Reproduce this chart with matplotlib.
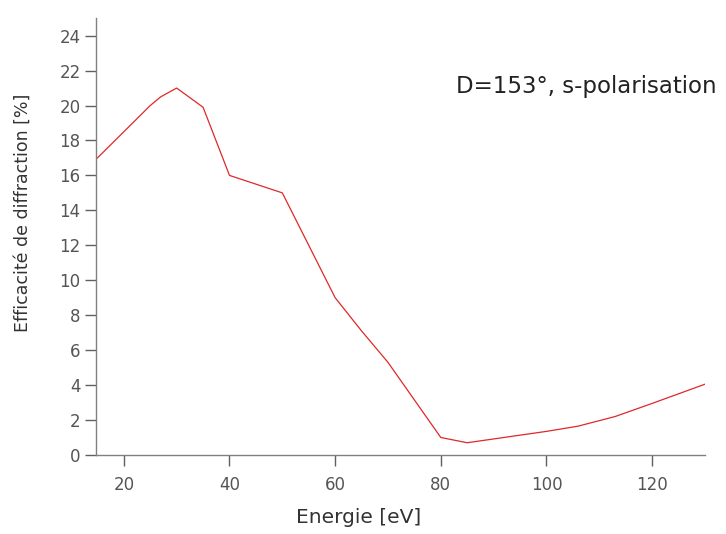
import matplotlib
matplotlib.use("Agg")
import matplotlib.pyplot as plt

# Valeurs
energie = [15, 20, 25, 27, 30, 35, 40, 50, 60, 65, 70, 80, 85, 100, 106, 113, 120, 130]
efficacite = [17.0, 18.5, 20.0, 20.5, 21.0, 19.9, 16.0, 15.0, 9.0, 7.1, 5.3, 1.0, 0.7,
              1.35, 1.65, 2.2, 2.95, 4.05]

plt.rcParams["font.family"] = ["DejaVu Sans"]

fig = plt.figure(figsize=(7.26, 5.34), dpi=100)
ax = fig.add_axes([0.132, 0.148, 0.839, 0.818])

ax.plot(energie, efficacite, color="#e02828", linewidth=0.9)

ax.set_xlim(14.7, 130)
ax.set_ylim(0, 25)
ax.set_xticks([20, 40, 60, 80, 100, 120])
ax.set_yticks(range(0, 25, 2))

for s in ["top", "right"]:
    ax.spines[s].set_visible(False)
for s in ["left", "bottom"]:
    ax.spines[s].set_color("#808080")
    ax.spines[s].set_linewidth(1.0)
ax.tick_params(axis="both", colors="#606060", labelcolor="#555555", labelsize=12,
               length=8, width=1.0)
ax.tick_params(axis="y", pad=3)
ax.tick_params(axis="x", pad=7)

ax.set_xlabel("Energie [eV]", fontsize=14.5, color="#333333")
ax.set_ylabel("Efficacité de diffraction [%]", fontsize=12.5, color="#333333")
ax.xaxis.set_label_coords(0.432, -0.144)
ax.xaxis.label.set_va("center")
ax.yaxis.set_label_coords(-0.12, 0.554)
ax.yaxis.label.set_va("center")

ax.text(82.8, 20.7, "D=153°, s-polarisation", fontsize=16.5, color="#222222",
        ha="left", va="baseline")

fig.savefig("out.png", dpi=100)
